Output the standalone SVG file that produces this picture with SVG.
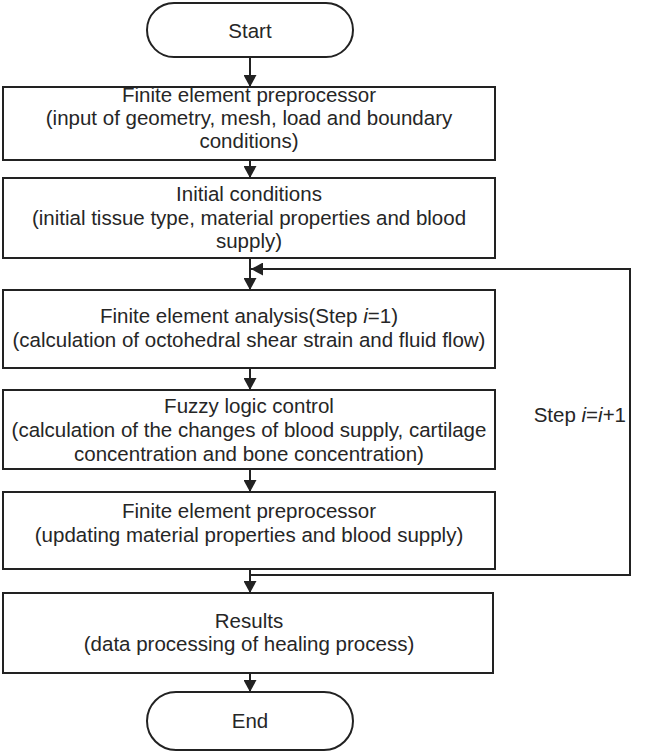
<svg xmlns="http://www.w3.org/2000/svg" width="666" height="753" viewBox="0 0 666 753">
<style>
.n{fill:#fff;stroke:#222;stroke-width:2}
.t{font-family:"Liberation Sans",Arial,sans-serif;font-size:20.5px;fill:#262626;text-anchor:middle}
.c{fill:none;stroke:#222;stroke-width:2}
</style>
<defs>
<marker id="a" markerWidth="12" markerHeight="13" refX="12" refY="6.5" orient="auto" markerUnits="userSpaceOnUse">
<path d="M0,0 L12,6.5 L0,13 Z" fill="#222"/>
</marker>
</defs>
<rect width="666" height="753" fill="#fff"/>
<g id="connectors">
<line class="c" x1="250" y1="57" x2="250" y2="87" marker-end="url(#a)"/>
<line class="c" x1="250" y1="160" x2="250" y2="178" marker-end="url(#a)"/>
<line class="c" x1="250" y1="258" x2="250" y2="290" marker-end="url(#a)"/>
<line class="c" x1="250" y1="368" x2="250" y2="390" marker-end="url(#a)"/>
<line class="c" x1="250" y1="469" x2="250" y2="492" marker-end="url(#a)"/>
<line class="c" x1="250" y1="569" x2="250" y2="593" marker-end="url(#a)"/>
<line class="c" x1="250" y1="673" x2="250" y2="692" marker-end="url(#a)"/>
<polyline class="c" points="250,575 630,575 630,269 251,269" marker-end="url(#a)"/>
<text class="t" x="626" y="422" style="text-anchor:end">Step <tspan font-style="italic">i</tspan>=<tspan font-style="italic">i</tspan>+1</text>
</g>
<g id="start">
<rect class="n" x="147" y="3" width="206" height="54" rx="27"/>
<text class="t" x="250" y="38">Start</text>
</g>
<g id="pre1">
<rect class="n" x="3" y="87" width="492" height="73"/>
<text class="t" x="249" y="102">Finite element preprocessor</text>
<text class="t" x="249" y="125">(input of geometry, mesh, load and boundary</text>
<text class="t" x="249" y="148">conditions)</text>
</g>
<g id="init">
<rect class="n" x="3" y="178" width="492" height="80"/>
<text class="t" x="249" y="201">Initial conditions</text>
<text class="t" x="249" y="225">(initial tissue type, material properties and blood</text>
<text class="t" x="249" y="248">supply)</text>
</g>
<g id="fea">
<rect class="n" x="3" y="290" width="492" height="78"/>
<text class="t" x="249" y="323">Finite element analysis(Step <tspan font-style="italic">i</tspan>=1)</text>
<text class="t" x="249" y="347">(calculation of octohedral shear strain and fluid flow)</text>
</g>
<g id="fuzzy">
<rect class="n" x="3" y="390" width="492" height="79"/>
<text class="t" x="249" y="413">Fuzzy logic control</text>
<text class="t" x="249" y="437">(calculation of the changes of blood supply, cartilage</text>
<text class="t" x="249" y="461">concentration and bone concentration)</text>
</g>
<g id="pre2">
<rect class="n" x="3" y="492" width="492" height="77"/>
<text class="t" x="249" y="518">Finite element preprocessor</text>
<text class="t" x="249" y="542">(updating material properties and blood supply)</text>
</g>
<g id="results">
<rect class="n" x="3" y="593" width="490" height="80"/>
<text class="t" x="249" y="628">Results</text>
<text class="t" x="249" y="651">(data processing of healing process)</text>
</g>
<g id="end">
<rect class="n" x="147" y="692" width="206" height="58" rx="29"/>
<text class="t" x="250" y="728">End</text>
</g>
</svg>
